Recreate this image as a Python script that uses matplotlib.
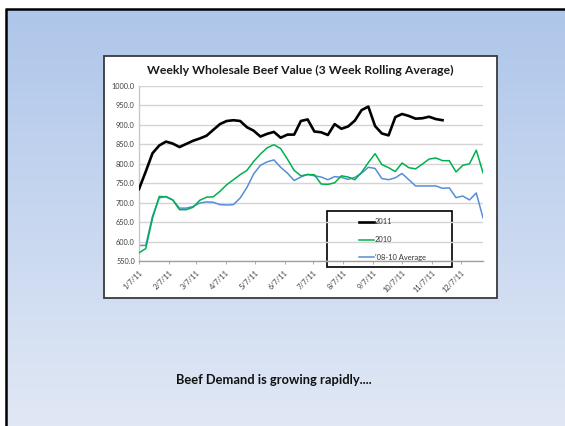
import numpy as np
import pandas as pd
import matplotlib
matplotlib.use("Agg")
import matplotlib.pyplot as plt
from matplotlib.patches import Rectangle

# ---------------- data ----------------
title = "Weekly Wholesale Beef Value (3 Week Rolling Average)"
subtitle = "Beef Demand is growing rapidly...."
series_names = ["2011", "2010", "'08-10 Average"]

val_2011 = [735, 780, 827, 847, 857, 852, 843, 851, 859, 865, 872, 887, 902, 910,
            912, 910, 894, 885, 870, 877, 882, 867, 875, 875, 910, 914, 883, 881,
            874, 902, 890, 896, 911, 938, 947, 897, 878, 873, 920, 928, 923, 916,
            917, 921, 915, 912]
val_2010 = [571, 582, 660, 716, 715, 707, 682, 682, 688, 706, 714, 715, 729, 746,
            759, 772, 783, 806, 825, 841, 849, 839, 812, 783, 769, 772, 772, 748,
            747, 751, 769, 766, 759, 778, 803, 826, 798, 790, 780, 802, 790, 787,
            799, 812, 815, 808, 808, 779, 796, 800, 835, 777]
val_avg = [590, 590, 665, 712, 716, 707, 686, 686, 690, 699, 702, 701, 695, 694,
           695, 712, 739, 774, 796, 805, 810, 791, 776, 757, 766, 773, 769, 766,
           759, 767, 765, 760, 765, 776, 791, 788, 762, 759, 764, 775, 759, 743,
           743, 743, 743, 737, 738, 713, 717, 707, 725, 661]

dates = pd.date_range("2011-01-07", periods=52, freq="7D")
tick_dates = pd.date_range("2011-01-01", periods=12, freq="MS") + pd.Timedelta(days=6)
tick_labels = ["1/7/11", "2/7/11", "3/7/11", "4/7/11", "5/7/11", "6/7/11",
               "7/7/11", "8/7/11", "9/7/11", "10/7/11", "11/7/11", "12/7/11"]
y_ticks = [550, 600, 650, 700, 750, 800, 850, 900, 950, 1000]

# ---------------- figure ----------------
W, H = 565, 426
fig = plt.figure(figsize=(W / 100, H / 100), dpi=100)

def fx(x):
    return x / W

def fy(y):
    return 1 - y / H

# slide background gradient
bg = fig.add_axes([0, 0, 1, 1])
bg.axis("off")
top = np.array([174, 198, 234]) / 255
bot = np.array([225, 232, 245]) / 255
t = np.linspace(0, 1, 256)[:, None, None]
grad = top * (1 - t) + bot * t
grad = np.repeat(grad, 2, axis=1)
bg.add_patch(Rectangle((0, 0), W, H, color="white", zorder=0))
bg.imshow(grad, extent=(6, W, H, 9), aspect="auto", zorder=1)
bg.plot([6, 6], [9, H], color="black", lw=1.8, zorder=2, solid_capstyle="butt")
bg.plot([5, W], [9, 9], color="black", lw=1.8, zorder=2, solid_capstyle="butt")
# chart box
bg.add_patch(Rectangle((104, 56), 393, 242, facecolor="white",
                       edgecolor="#3a3a3a", lw=1.3, zorder=3))
bg.set_xlim(0, W)
bg.set_ylim(H, 0)

fig.text(fx(300), fy(70), title, ha="center", va="center",
         fontsize=8.8, fontweight="bold", family="Lato", color="#1a1a1a")
fig.text(fx(274), fy(380), subtitle, ha="center", va="center",
         fontsize=9.3, fontweight="bold", family="Lato", color="#111111")

# plot area
ax = fig.add_axes([fx(139), fy(261), fx(483) - fx(139), fy(86) - fy(261)])
ax.set_facecolor("none")
l1, = ax.plot(dates[:len(val_2011)], val_2011, color="black", lw=1.9,
              solid_joinstyle="round", zorder=4)
l2, = ax.plot(dates, val_2010, color="#00b050", lw=1.1, zorder=3)
l3, = ax.plot(dates, val_avg, color="#558ed5", lw=1.1, zorder=2)

ax.set_ylim(550, 1000)
ax.set_xlim(pd.Timestamp("2011-01-07"), pd.Timestamp("2011-12-30"))
ax.set_yticks(y_ticks)
ax.set_yticklabels([f"{v:.1f}" for v in y_ticks])
ax.set_xticks(tick_dates)
ax.set_xticklabels(tick_labels, rotation=45, ha="right", va="top",
                   rotation_mode="anchor")
ax.tick_params(axis="y", length=0, pad=3, labelsize=5.3, labelcolor="#404040")
ax.tick_params(axis="x", length=2.5, width=0.6, color="#a0a0a0", pad=3,
               labelsize=5.3, labelcolor="#404040")
for lab in ax.get_yticklabels() + ax.get_xticklabels():
    lab.set_family("Lato")
ax.grid(axis="y", color="#d4d4d4", lw=1.0, zorder=0)
ax.set_axisbelow(True)
for s in ["top", "right"]:
    ax.spines[s].set_visible(False)
ax.spines["left"].set_color("#c8c8c8")
ax.spines["bottom"].set_color("#a0a0a0")
ax.spines["left"].set_linewidth(1.0)
ax.spines["bottom"].set_linewidth(1.0)

# legend
bg.add_patch(Rectangle((327, 211), 125, 56, facecolor="white",
                       edgecolor="black", lw=1.2, zorder=5))
leg = fig.legend([l1, l2, l3], series_names, loc="upper left",
                 bbox_to_anchor=(fx(354), fy(213)), frameon=False,
                 handlelength=2.0, handletextpad=0.1,
                 labelspacing=1.45, borderpad=0.2,
                 prop={"family": "Lato", "size": 5.4})
for txt in leg.get_texts():
    txt.set_color("#333333")

fig.savefig("out.png", dpi=100)
